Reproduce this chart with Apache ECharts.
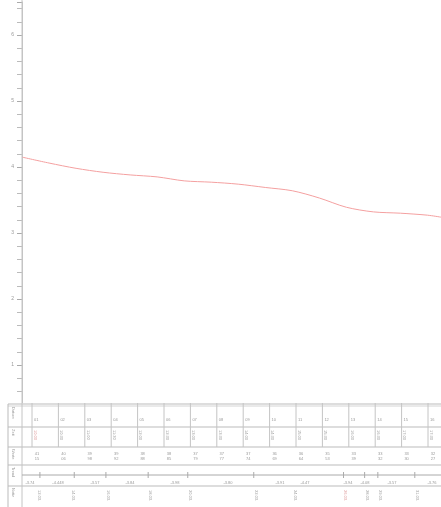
<!DOCTYPE html>
<html><head><meta charset="utf-8">
<script src="https://cdn.jsdelivr.net/npm/echarts@6/dist/echarts.min.js"></script>
<style>html,body{margin:0;padding:0;background:#fff}#c{width:441px;height:507px}</style>
</head><body><div id="c"></div>
<script>
// ---- data ----
const xValues = [0,2,4,6,8,10,12,14,16,18,20,22,24,26,28,30,31];
const lineValues = [4.15,4.06,3.98,3.92,3.88,3.85,3.79,3.77,3.74,3.69,3.64,3.53,3.39,3.32,3.30,3.27,3.24];
const yTickValues = [1,2,3,4,5,6];
const rowHeaders = ['Datum','Zeit','Werte','Trend','Notiz'];
const columnLabels = ['01','02','03','04','05','06','07','08','09','10','11','12','13','14','15','16'];
const columnTimes = ['10:00','10:30','11:00','11:30','12:00','12:30','13:00','13:30','14:00','14:30','15:00','15:30','16:00','16:30','17:00','17:30'];
const pairTop = ['41','40','39','39','38','38','37','37','37','36','36','35','33','33','33','32'];
const pairBottom = ['15','06','98','92','88','85','79','77','74','69','64','53','39','32','30','27'];
const trendLabels = ['-3.74','-4.448','-3.57','-3.84','-3.98','-3.80','-3.91','-4.47','-3.94','-4.08','-3.57','-3.76'];
const trendTickCols = [0.3,1.6,2.8,4.4,5.9,8.4,11.8,12.6,13.1,14.5];
const noteTexts = ['12.03.','14.03.','16.03.','18.03.','20.03.','22.03.','24.03.','26.03.','28.03.','29.03.','31.03.'];
const noteCols = [0.2,1.5,2.8,4.4,5.9,8.4,9.9,11.8,12.6,13.1,14.5];

// ---- layout helpers ----
const colX = i => 32 + i * 26.4;
const faint = '#bbb', txt = '#999';
const g = [];
g.push({type:'rect', shape:{x:0,y:403,width:441,height:104}, style:{fill:'#fff'}, z:100});
const hl = (y, x0, x1, c) => g.push({type:'line', shape:{x1:x0,y1:y,x2:x1,y2:y}, style:{stroke:c||faint,lineWidth:1}, z:101});
const vl = (x, y0, y1, c) => g.push({type:'line', shape:{x1:x,y1:y0,x2:x,y2:y1}, style:{stroke:c||faint,lineWidth:1}, z:101});
[404,427,447,465,486].forEach(y => hl(y, 8, 441));
hl(406, 8, 441, '#d4d4d4');
vl(8, 404, 507); vl(22, 0, 507, '#c4c4c4');
const rowY = [407,429,449,467,488];
rowHeaders.forEach((t,i)=> g.push({type:'text', x:13, y:rowY[i], rotation:-Math.PI/2, style:{text:t, fontSize:4, fill:txt, align:'left', verticalAlign:'middle'}, z:102}));
columnLabels.forEach((t,i)=>{
  vl(colX(i), 403, 447, '#c4c4c4');
  g.push({type:'text', x:colX(i)+2, y:420, style:{text:t, fontSize:4, fill:txt, align:'left', verticalAlign:'middle'}, z:102});
  g.push({type:'text', x:colX(i)+3, y:430, rotation:-Math.PI/2, style:{text:columnTimes[i], fontSize:4, fill: i===0?'#d99':txt, align:'left', verticalAlign:'middle'}, z:102});
  g.push({type:'text', x:colX(i)+5, y:454, style:{text:pairTop[i], fontSize:4, fill:txt, align:'center', verticalAlign:'middle'}, z:102});
  g.push({type:'text', x:colX(i)+5, y:459, style:{text:pairBottom[i], fontSize:4, fill:txt, align:'center', verticalAlign:'middle'}, z:102});
});
hl(475, 22, 441, '#aaa');
trendTickCols.forEach(c => vl(colX(c), 472, 478, '#aaa'));
const trendX = [30,58,95,130,175,228,280,305,348,365,392,432];
trendLabels.forEach((t,i)=> g.push({type:'text', x:trendX[i], y:483, style:{text:t, fontSize:4, fill:txt, align:'center', verticalAlign:'middle'}, z:102}));
noteTexts.forEach((t,i)=> g.push({type:'text', x:colX(noteCols[i])+2, y:490, rotation:-Math.PI/2, style:{text:t, fontSize:4, fill: (i===7)?'#d99':txt, align:'left', verticalAlign:'middle'}, z:102}));

const chart = echarts.init(document.getElementById('c'), null, {renderer:'canvas'});
chart.setOption({
  animation:false,
  grid:{left:22,right:0,top:2,bottom:76,containLabel:false},
  xAxis:{type:'value',min:0,max:31,show:false},
  yAxis:{type:'value',min:0,max:6.5,interval:1,
    axisLine:{show:true,lineStyle:{color:'#c4c4c4',width:1}},
    axisTick:{show:true,length:5,lineStyle:{color:'#aaa'}},
    minorTick:{show:true,splitNumber:5,length:5,lineStyle:{color:'#bbb'}},
    splitLine:{show:false},
    axisLabel:{fontSize:5,color:'#999',margin:8,formatter:v=>yTickValues.includes(v)?String(v):''}
  },
  series:[{type:'line',data:xValues.map((x,i)=>[x,lineValues[i]]),smooth:0.3,symbol:'none',
    lineStyle:{color:'#f4a0a0',width:1}}],
  graphic:{elements:g}
});
</script></body></html>
